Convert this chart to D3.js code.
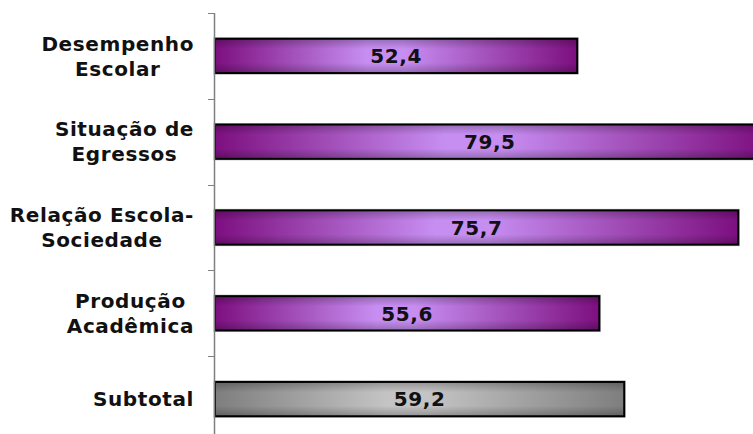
<!DOCTYPE html>
<html>
<head>
<meta charset="utf-8">
<script src="https://cdn.jsdelivr.net/npm/d3@7"></script>
<style>
  body { margin: 0; background: #fff; }
  svg { display: block; }
  text { font-family: "DejaVu Sans", Verdana, sans-serif; font-weight: bold; }
</style>
</head>
<body>
<svg width="753" height="434"></svg>
<script>
// data
const categories = [
  ["Desempenho", "Escolar"],
  ["Situação de", "Egressos"],
  ["Relação Escola-", "Sociedade"],
  ["Produção", "Acadêmica"],
  ["Subtotal"],
];
const values = [52.4, 79.5, 75.7, 55.6, 59.2];
const valueLabels = ["52,4", "79,5", "75,7", "55,6", "59,2"];

const svg = d3.select("svg");
const height = 434;

const x = d3.scaleLinear().domain([0, 80]).range([215, 768]);
const y = d3
  .scaleBand()
  .domain(d3.range(values.length))
  .range([13, 442])
  .paddingInner(0.6)
  .paddingOuter(0.3);

const defs = svg.append("defs");

function hGrad(id, edge, mid) {
  const g = defs.append("linearGradient").attr("id", id)
    .attr("x1", "0%").attr("x2", "100%").attr("y1", "0%").attr("y2", "0%");
  g.append("stop").attr("offset", "0%").attr("stop-color", edge);
  g.append("stop").attr("offset", "42%").attr("stop-color", mid);
  g.append("stop").attr("offset", "52%").attr("stop-color", mid);
  g.append("stop").attr("offset", "100%").attr("stop-color", edge);
}
hGrad("purple", "#7d0f80", "#c78ef2");
hGrad("gray", "#7e7e7e", "#c4c4c4");

// vertical shading on top of the horizontal gradient
const vg = defs.append("linearGradient").attr("id", "vshade")
  .attr("x1", "0%").attr("x2", "0%").attr("y1", "0%").attr("y2", "100%");
vg.append("stop").attr("offset", "0%").attr("stop-color", "#000").attr("stop-opacity", 0.25);
vg.append("stop").attr("offset", "30%").attr("stop-color", "#000").attr("stop-opacity", 0);
vg.append("stop").attr("offset", "70%").attr("stop-color", "#000").attr("stop-opacity", 0);
vg.append("stop").attr("offset", "100%").attr("stop-color", "#000").attr("stop-opacity", 0.25);

const bars = svg.append("g").selectAll("g")
  .data(values)
  .join("g");

// light gray shadow outline
bars.append("rect")
  .attr("x", x(0) - 1)
  .attr("y", (d, i) => y(i) - 1)
  .attr("width", (d) => x(d) - x(0) + 2)
  .attr("height", y.bandwidth() + 2)
  .attr("fill", "none")
  .attr("stroke", "#bbb")
  .attr("stroke-width", 1);

bars.append("rect")
  .attr("x", x(0))
  .attr("y", (d, i) => y(i))
  .attr("width", (d) => x(d) - x(0))
  .attr("height", y.bandwidth())
  .attr("fill", (d, i) => i === values.length - 1 ? "url(#gray)" : "url(#purple)");

bars.append("rect")
  .attr("x", x(0))
  .attr("y", (d, i) => y(i))
  .attr("width", (d) => x(d) - x(0))
  .attr("height", y.bandwidth())
  .attr("fill", "url(#vshade)")
  .attr("stroke", "#000")
  .attr("stroke-width", 2);

bars.append("text")
  .attr("x", (d) => (x(0) + x(d)) / 2)
  .attr("y", (d, i) => y(i) + y.bandwidth() / 2)
  .attr("dy", "0.36em")
  .attr("text-anchor", "middle")
  .attr("font-size", 20)
  .attr("letter-spacing", 0.6)
  .attr("fill", "#111")
  .text((d, i) => valueLabels[i]);

// axis: vertical line + ticks at band boundaries
const step = y.step();
const tickY = (i) => Math.round(13 + i * step) + 0.5;
const axisG = svg.append("g");
axisG.append("line")
  .attr("x1", 214.5).attr("x2", 214.5)
  .attr("y1", 13).attr("y2", height)
  .attr("stroke", "#808080").attr("stroke-width", 1.5);
axisG.selectAll("line.tick")
  .data(d3.range(values.length))
  .join("line")
  .attr("class", "tick")
  .attr("x1", 208).attr("x2", 214)
  .attr("y1", tickY)
  .attr("y2", tickY)
  .attr("stroke", "#808080");

// category labels: block right-aligned, lines centered within block
const labels = svg.append("g").selectAll("text")
  .data(categories)
  .join("text")
  .attr("font-size", 20)
  .attr("letter-spacing", 0.6)
  .attr("fill", "#111")
  .attr("text-anchor", "middle");

labels.each(function (lines, i) {
  const t = d3.select(this);
  const cy = y(i) + y.bandwidth() / 2;
  const lh = 25;
  lines.forEach((ln, k) => {
    t.append("tspan")
      .attr("y", cy + (k - (lines.length - 1) / 2) * lh)
      .attr("dy", "0.36em")
      .text(ln);
  });
  let maxW = 0;
  t.selectAll("tspan").each(function () {
    maxW = Math.max(maxW, this.getComputedTextLength());
  });
  t.selectAll("tspan").attr("x", 194 - maxW / 2);
});
</script>
</body>
</html>
